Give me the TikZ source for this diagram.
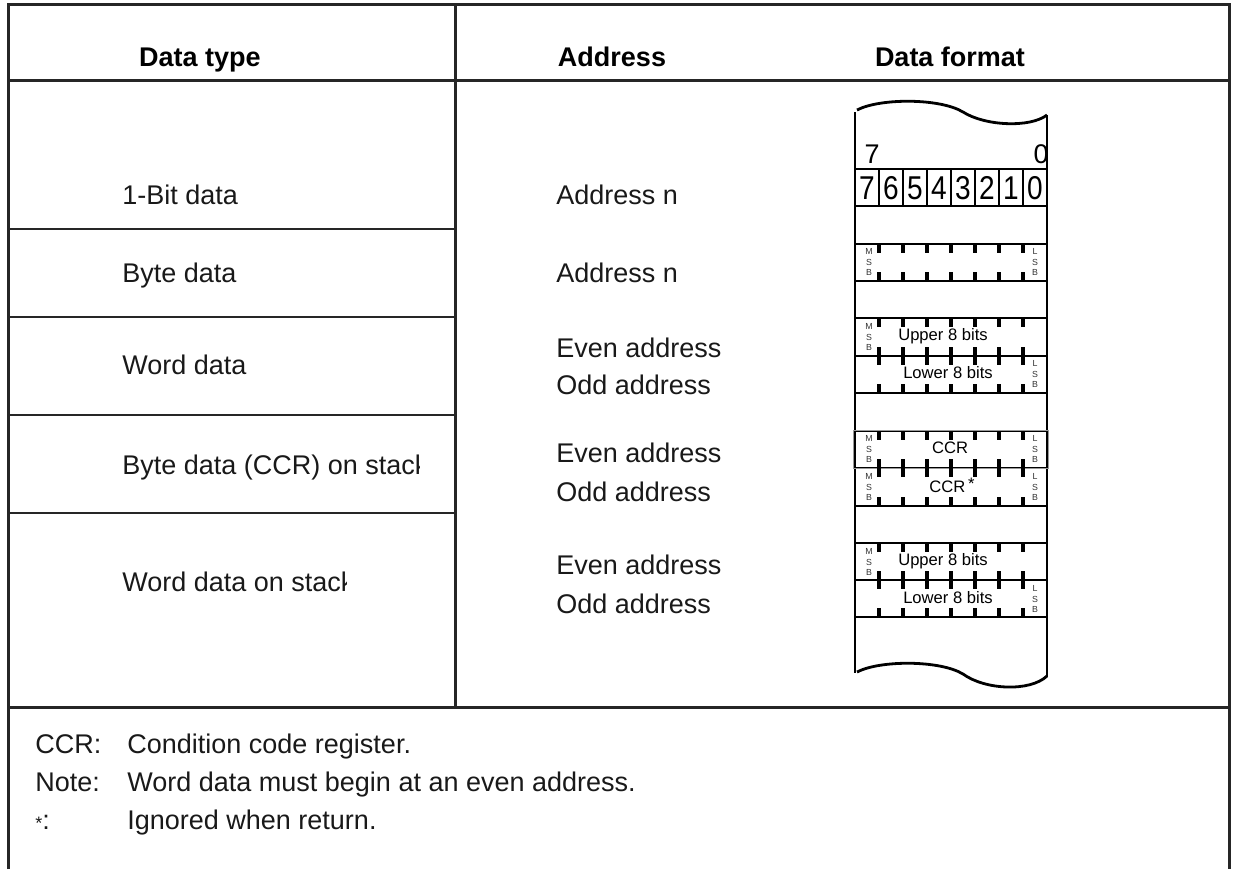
\documentclass[tikz,border=0pt]{standalone}
\usepackage{fontspec}
\setmainfont{Liberation Sans}
\newcommand\tdown[1]{\foreach \i in {1,...,7} \draw[tickl] ({855+24*\i},#1) -- ++(0,9);}
\newcommand\tup[1]{\foreach \i in {1,...,7} \draw[tickl] ({855+24*\i},#1) -- ++(0,-9);}
\begin{document}
\begin{tikzpicture}[x=0.5pt,y=-0.5pt,
  frame/.style={line width=1.5pt, draw=black!85},
  sep/.style={line width=1.1pt, draw=black!85},
  stk/.style={line width=1.4pt},
  tickl/.style={line width=1.6pt},
  txt/.style={font=\fontsize{13.5}{16}\selectfont, inner sep=0pt, anchor=base west, text=black!90},
  hdr/.style={font=\bfseries\fontsize{13.5}{16}\selectfont, inner sep=0pt, anchor=base},
  small/.style={font=\fontsize{8.3}{9}\selectfont, inner sep=0pt},
  tiny/.style={font=\fontsize{4.4}{5.3}\selectfont, inner sep=0pt, align=center, text=black!80},
  big/.style={font=\fontsize{16.5}{18}\selectfont, inner sep=0pt},
  top/.style={font=\fontsize{13.5}{16}\selectfont, inner sep=0pt}]
\useasboundingbox (0,0) rectangle (1235,869);
% frame
\draw[frame] (8,869) -- (8,4) -- (1229,4) -- (1229,869);
\draw[frame] (8,80) -- (1229,80);
\draw[frame] (455,4) -- (455,707);
\draw[frame] (8,707) -- (1229,707);
\foreach \y in {229,317,415,513} \draw[sep] (8,\y) -- (455,\y);
% headers
\node[hdr] (h1) at (200,66) {Data type};
\node[hdr] (h2) at (612,66) {Address};
\node[hdr] (h3) at (950,66) {Data format};
% data types
\node[txt] (d1) at (122,204) {1-Bit data};
\node[txt] (d2) at (122,282) {Byte data};
\node[txt] (d3) at (122,374) {Word data};
\begin{scope}
\clip (100,440) rectangle (419.7,500);
\node[txt] (d4) at (122,474) {Byte data (CCR) on stack};
\end{scope}
\begin{scope}
\clip (100,560) rectangle (346.2,610);
\node[txt] (d5) at (122,591) {Word data on stack};
\end{scope}
% addresses
\node[txt] (a1) at (556,204) {Address n};
\node[txt] (a2) at (556,282) {Address n};
\node[txt] (a3) at (556,357) {Even address};
\node[txt] (a4) at (556,394) {Odd address};
\node[txt] (a5) at (556,462) {Even address};
\node[txt] (a6) at (556,501) {Odd address};
\node[txt] (a7) at (556,574) {Even address};
\node[txt] (a8) at (556,613) {Odd address};
% footer
\node[txt] (f1) at (35,753) {CCR:};
\node[txt] (f1t) at (127,753) {Condition code register.};
\node[txt] (f2) at (35,791) {Note:};
\node[txt] (f2t) at (127,791) {Word data must begin at an even address.};
\node[txt] (f3) at (35,829) {{\fontsize{9}{10}\selectfont *}:};
\node[txt] (f3t) at (127,829) {Ignored when return.};
% memory strip outline
\draw[stk] (857,110) .. controls (880,98) and (940,98) .. (963,112)
  .. controls (985,126) and (1030,128) .. (1047,115);
\draw[stk] (857,672) .. controls (880,660) and (940,660) .. (963,674)
  .. controls (985,690) and (1030,692) .. (1047,676);
\draw[stk] (855,112) -- (855,673);
\draw[stk] (1047,115) -- (1047,677);
\foreach \y in {169,206,244,281,318,356,393,431,468,506,543,580,617} \draw[stk] (855,\y) -- (1047,\y);
% bit row
\node[top] (t7) at (872,154) {7};
\node[top] (t0) at (1041,154) {0};
\foreach \i in {1,...,7} \draw[stk] ({855+24*\i},169) -- ({855+24*\i},206);
\foreach \i in {0,...,7} {\pgfmathtruncatemacro\d{7-\i}
  \node[big, xscale=0.85] (b\d) at ({867+24*\i},188) {\d};}
% byte row
\tdown{244}\tup{281}
\node[tiny] (m1) at (869,262) {M\\S\\B};
\node[tiny] (l1) at (1035,262) {L\\S\\B};
% word
\tdown{318}\tup{356}\tdown{356}\tup{393}
\node[tiny] (m2) at (869,337) {M\\S\\B};
\node[tiny] (l2) at (1035,374) {L\\S\\B};
\node[small] (u2) at (943,336) {Upper 8 bits};
\node[small] (w2) at (948,373) {Lower 8 bits};
% ccr
\draw[line width=0.4pt, draw=black!40] (853,430) rectangle (1048,468);
\tdown{431}\tup{468}\tdown{468}\tup{506}
\node[tiny] (m3) at (869,449) {M\\S\\B};
\node[tiny] (l3) at (1035,449) {L\\S\\B};
\node[tiny] (m4) at (869,487) {M\\S\\B};
\node[tiny] (l4) at (1035,487) {L\\S\\B};
\node[small] (c1) at (950,448) {CCR};
\node[small] (c2) at (952,485) {CCR\,\raisebox{0.35ex}{*}};
% word on stack
\tdown{543}\tup{580}\tdown{580}\tup{617}
\node[tiny] (m5) at (869,562) {M\\S\\B};
\node[tiny] (l5) at (1035,599) {L\\S\\B};
\node[small] (u5) at (943,561) {Upper 8 bits};
\node[small] (w5) at (948,598) {Lower 8 bits};
\end{tikzpicture}
\end{document}
